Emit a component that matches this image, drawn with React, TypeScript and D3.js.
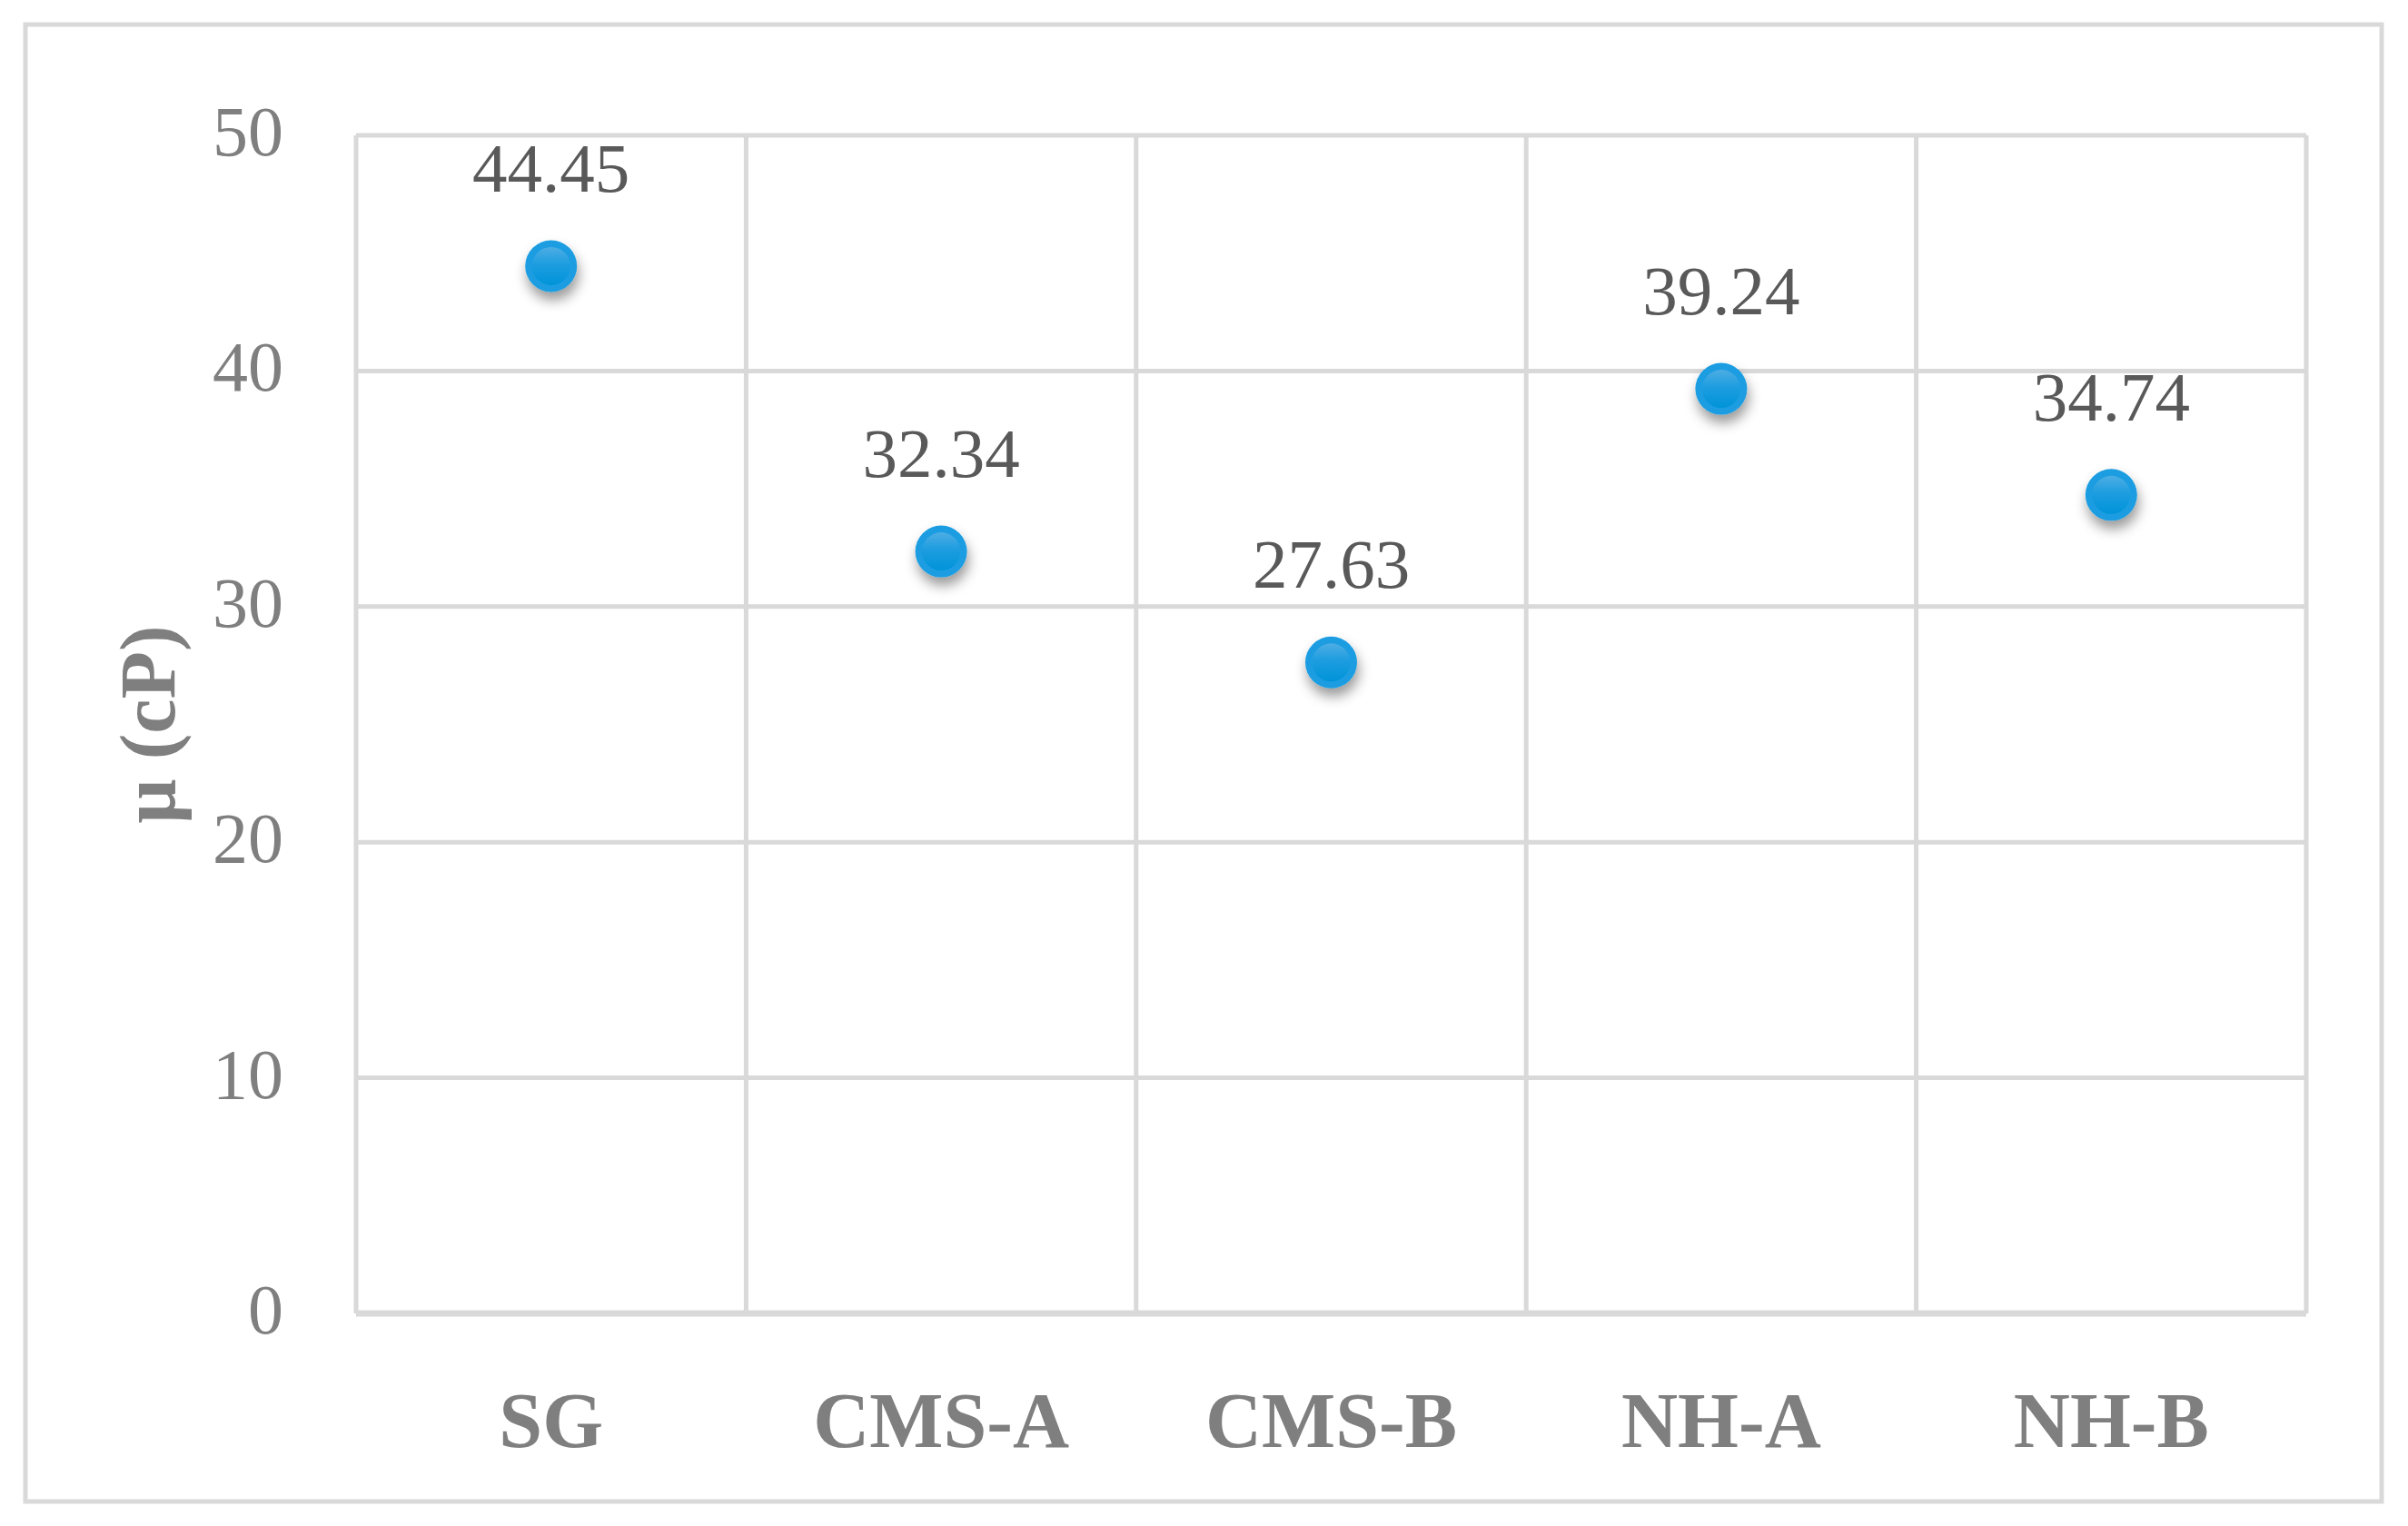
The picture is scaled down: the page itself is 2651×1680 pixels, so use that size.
import React, { useEffect, useRef } from "react";
import * as d3 from "d3";

const categories = ["SG", "CMS-A", "CMS-B", "NH-A", "NH-B"];
const viscosity = [44.45, 32.34, 27.63, 39.24, 34.74];
const yTicks = [0, 10, 20, 30, 40, 50];
const yTitle = "μ (cP)";

const WIDTH = 2651;
const HEIGHT = 1680;
const FONT = "'Palatino Linotype', 'Book Antiqua', Palatino, 'Liberation Serif', serif";
const GRID = "#d9d9d9";

const App: React.FC = () => {
  const svgRef = useRef<SVGSVGElement | null>(null);

  useEffect(() => {
    if (!svgRef.current) return;
    const svg = d3.select(svgRef.current);
    svg.selectAll("*").remove(); // Clear previous content

    const plot = { left: 392, right: 2539, top: 149, bottom: 1446 };

    const x = d3
      .scaleBand<string>()
      .domain(categories)
      .range([plot.left, plot.right]);

    const y = d3.scaleLinear().domain([0, 50]).range([plot.bottom, plot.top]);

    const defs = svg.append("defs");
    const shadow = defs
      .append("filter")
      .attr("id", "dot-shadow")
      .attr("x", "-80%")
      .attr("y", "-80%")
      .attr("width", "260%")
      .attr("height", "260%");
    shadow
      .append("feDropShadow")
      .attr("dx", 2)
      .attr("dy", 9)
      .attr("stdDeviation", 7)
      .attr("flood-color", "#000")
      .attr("flood-opacity", 0.4);

    const grad = defs
      .append("linearGradient")
      .attr("id", "dot-fill")
      .attr("x1", 0)
      .attr("y1", 0)
      .attr("x2", 0)
      .attr("y2", 1);
    grad.append("stop").attr("offset", "0%").attr("stop-color", "#4eade3");
    grad.append("stop").attr("offset", "45%").attr("stop-color", "#1d9de0");
    grad.append("stop").attr("offset", "100%").attr("stop-color", "#0093d8");

    // chart frame
    svg
      .append("rect")
      .attr("x", 28)
      .attr("y", 27)
      .attr("width", 2594)
      .attr("height", 1626)
      .attr("fill", "#fff")
      .attr("stroke", GRID)
      .attr("stroke-width", 5);

    // horizontal gridlines
    svg
      .append("g")
      .selectAll("line")
      .data(yTicks)
      .enter()
      .append("line")
      .attr("x1", plot.left)
      .attr("x2", plot.right)
      .attr("y1", (d) => y(d))
      .attr("y2", (d) => y(d))
      .attr("stroke", GRID)
      .attr("stroke-width", (d) => (d === 0 ? 7 : 5));

    // vertical gridlines at category boundaries
    const bounds = categories.map((c) => x(c)!).concat([plot.right]);
    svg
      .append("g")
      .selectAll("line")
      .data(bounds)
      .enter()
      .append("line")
      .attr("x1", (d) => d)
      .attr("x2", (d) => d)
      .attr("y1", plot.top)
      .attr("y2", plot.bottom)
      .attr("stroke", GRID)
      .attr("stroke-width", 5);

    // y tick labels
    svg
      .append("g")
      .selectAll("text")
      .data(yTicks)
      .enter()
      .append("text")
      .attr("x", 312)
      .attr("y", (d) => y(d) + 22)
      .attr("text-anchor", "end")
      .attr("font-family", FONT)
      .attr("font-size", 78)
      .attr("fill", "#7f7f7f")
      .text((d) => d);

    // category labels
    svg
      .append("g")
      .selectAll("text")
      .data(categories)
      .enter()
      .append("text")
      .attr("x", (d) => x(d)! + x.bandwidth() / 2)
      .attr("y", 1593)
      .attr("text-anchor", "middle")
      .attr("font-family", FONT)
      .attr("font-size", 86)
      .attr("font-weight", "bold")
      .attr("fill", "#7f7f7f")
      .text((d) => d);

    // y-axis title
    svg
      .append("text")
      .attr("transform", `translate(192, ${(plot.top + plot.bottom) / 2}) rotate(-90)`)
      .attr("text-anchor", "middle")
      .attr("font-family", FONT)
      .attr("font-size", 86)
      .attr("font-weight", "bold")
      .attr("fill", "#7f7f7f")
      .text(yTitle);

    const points = categories.map((c, i) => ({ cat: c, value: viscosity[i] }));

    // markers
    const dots = svg
      .append("g")
      .selectAll("g")
      .data(points)
      .enter()
      .append("g")
      .attr(
        "transform",
        (d) => `translate(${x(d.cat)! + x.bandwidth() / 2},${y(d.value)})`,
      );
    dots
      .append("circle")
      .attr("r", 28.5)
      .attr("fill", "#1c9de1")
      .attr("filter", "url(#dot-shadow)");
    dots.append("circle").attr("r", 21).attr("fill", "url(#dot-fill)");

    // data labels
    svg
      .append("g")
      .selectAll("text")
      .data(points)
      .enter()
      .append("text")
      .attr("x", (d) => x(d.cat)! + x.bandwidth() / 2)
      .attr("y", (d) => y(d.value) - 82)
      .attr("text-anchor", "middle")
      .attr("font-family", FONT)
      .attr("font-size", 77)
      .attr("fill", "#595959")
      .text((d) => d.value.toFixed(2));
  }, []);

  return (
    <svg
      ref={svgRef}
      width={WIDTH}
      height={HEIGHT}
      style={{ position: "absolute", left: 0, top: 0, background: "#fff" }}
    ></svg>
  );
};

export default App;
